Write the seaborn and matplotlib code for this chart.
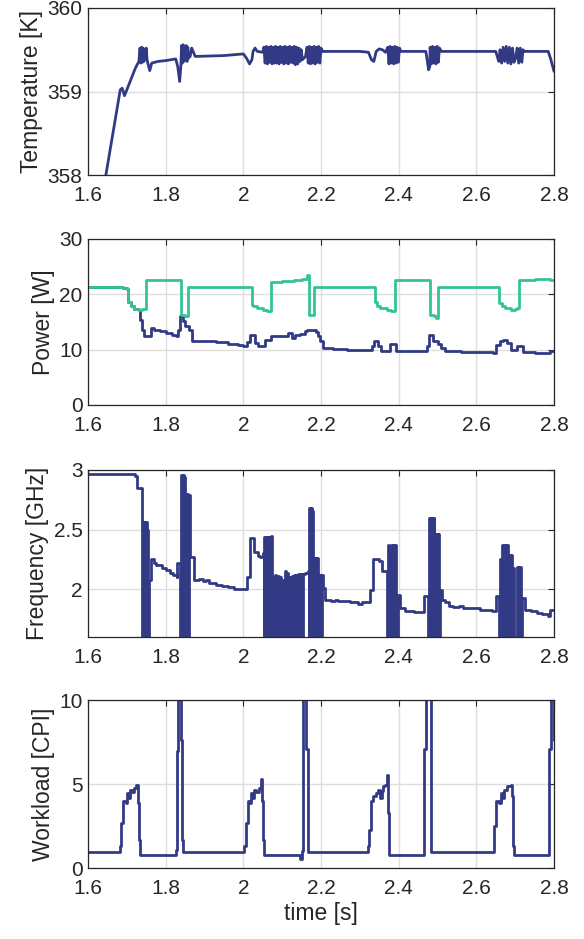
import matplotlib
matplotlib.use("Agg")
import matplotlib.pyplot as plt
import seaborn as sns

# ---- data (time in s) ----
# temperature: drawn as a plain polyline
temp_t = [1.646, 1.683, 1.688, 1.694, 1.710, 1.722, 1.731,
          1.734, 1.736, 1.738, 1.740, 1.742, 1.744, 1.746, 1.748, 1.750, 1.752,
          1.755, 1.759, 1.764, 1.780, 1.800, 1.826, 1.831, 1.836, 1.839,
          1.841, 1.843, 1.845, 1.847, 1.849, 1.851, 1.853, 1.855, 1.857, 1.859,
          1.863, 1.867, 1.876, 1.950, 2.000, 2.008, 2.016, 2.022, 2.025, 2.030, 2.036, 2.050,
          2.053, 2.056, 2.059, 2.062, 2.065, 2.068, 2.071, 2.074, 2.077, 2.080,
          2.083, 2.086, 2.089, 2.092, 2.095, 2.098, 2.101, 2.104, 2.107, 2.110,
          2.113, 2.116, 2.119, 2.122, 2.125, 2.128, 2.131, 2.134, 2.137, 2.140,
          2.143, 2.146, 2.149, 2.152, 2.156, 2.160,
          2.164, 2.167, 2.170, 2.173, 2.176, 2.179, 2.182, 2.185, 2.188, 2.191,
          2.194, 2.197, 2.200, 2.204, 2.300, 2.322, 2.330, 2.336, 2.342, 2.350,
          2.358, 2.366,
          2.372, 2.375, 2.378, 2.381, 2.384, 2.387, 2.390, 2.393, 2.396, 2.399, 2.402,
          2.406, 2.470, 2.474, 2.477, 2.480,
          2.481, 2.484, 2.487, 2.490, 2.493, 2.496, 2.499, 2.502, 2.505,
          2.510, 2.650, 2.655, 2.658,
          2.661, 2.665, 2.669, 2.673, 2.677, 2.681, 2.685, 2.689, 2.693, 2.697,
          2.701, 2.705, 2.709, 2.713, 2.717, 2.720,
          2.724, 2.785, 2.792, 2.800]
temp_v = [358.00, 359.02, 359.04, 358.95, 359.14, 359.28, 359.36,
          359.52, 359.34, 359.53, 359.35, 359.52, 359.36, 359.50, 359.40, 359.52, 359.38,
          359.32, 359.25, 359.34, 359.36, 359.37, 359.39, 359.30, 359.12, 359.30,
          359.55, 359.34, 359.56, 359.36, 359.54, 359.38, 359.55, 359.36, 359.53, 359.40,
          359.42, 359.52, 359.42, 359.43, 359.45, 359.40, 359.33, 359.38, 359.48, 359.52, 359.48, 359.47,
          359.53, 359.34, 359.54, 359.33, 359.53, 359.35, 359.54, 359.33, 359.53, 359.34,
          359.54, 359.34, 359.53, 359.33, 359.54, 359.35, 359.53, 359.33, 359.54, 359.34,
          359.53, 359.33, 359.54, 359.35, 359.53, 359.34, 359.54, 359.32, 359.53, 359.33,
          359.52, 359.36, 359.50, 359.38, 359.40, 359.42,
          359.53, 359.34, 359.54, 359.33, 359.53, 359.34, 359.54, 359.33, 359.53, 359.35,
          359.54, 359.34, 359.52, 359.48, 359.48, 359.47, 359.38, 359.36, 359.48, 359.51,
          359.50, 359.47,
          359.53, 359.33, 359.54, 359.34, 359.53, 359.33, 359.54, 359.34, 359.53, 359.35, 359.52,
          359.48, 359.48, 359.35, 359.26, 359.30,
          359.53, 359.33, 359.54, 359.34, 359.53, 359.33, 359.54, 359.35, 359.52,
          359.48, 359.48, 359.40, 359.36,
          359.50, 359.34, 359.53, 359.36, 359.54, 359.34, 359.53, 359.33, 359.52, 359.35,
          359.40, 359.52, 359.34, 359.52, 359.35, 359.50,
          359.48, 359.48, 359.38, 359.24]

# the rest are sampled signals: each value holds until the next time stamp
power_a_t = [1.600, 1.690, 1.700, 1.704, 1.710, 1.718, 1.731, 1.734, 1.738, 1.745,
             1.762, 1.770, 1.785, 1.800, 1.815, 1.826, 1.831, 1.838, 1.845, 1.850,
             1.860, 1.869, 1.900, 1.930, 1.960, 1.985, 2.000, 2.010, 2.016, 2.030,
             2.038, 2.056, 2.072, 2.110, 2.115, 2.124, 2.132, 2.145, 2.158, 2.164,
             2.188, 2.192, 2.198, 2.205, 2.230, 2.266, 2.300, 2.330, 2.337, 2.347,
             2.355, 2.378, 2.393, 2.472, 2.478, 2.488, 2.500, 2.508, 2.520, 2.560,
             2.600, 2.644, 2.650, 2.662, 2.668, 2.680, 2.688, 2.704, 2.720, 2.750,
             2.785, 2.790, 2.800]
power_a_v = [21.3, 21.2, 21.0, 18.7, 17.8, 17.3, 17.2, 15.4, 13.6, 12.4,
             13.9, 13.6, 13.3, 13.0, 12.7, 12.5, 13.6, 16.1, 15.1, 14.2,
             13.6, 11.6, 11.5, 11.3, 11.1, 10.9, 10.7, 11.4, 12.7, 11.2,
             10.7, 11.8, 12.4, 12.5, 13.0, 12.1, 12.6, 12.9, 13.3, 13.6,
             13.2, 12.4, 11.5, 10.3, 10.1, 10.0, 9.9, 10.6, 11.6, 10.6,
             9.8, 11.0, 9.8, 10.6, 12.7, 11.5, 11.0, 10.3, 9.7, 9.6,
             9.5, 9.35, 10.9, 11.5, 11.8, 11.2, 10.0, 10.6, 9.5, 9.4,
             9.35, 9.8, 9.8]

power_b_t = [1.600, 1.690, 1.700, 1.704, 1.710, 1.718, 1.731, 1.740, 1.750, 1.780,
             1.840, 1.850, 1.858, 1.900, 1.960, 2.021, 2.026, 2.034, 2.050, 2.060,
             2.071, 2.100, 2.130, 2.150, 2.165, 2.170, 2.181, 2.250, 2.300, 2.339,
             2.345, 2.352, 2.370, 2.380, 2.390, 2.481, 2.490, 2.496, 2.501, 2.560,
             2.620, 2.659, 2.665, 2.674, 2.690, 2.700, 2.704, 2.711, 2.750, 2.790,
             2.800]
power_b_v = [21.3, 21.2, 21.0, 18.7, 17.8, 17.3, 17.2, 17.4, 22.5, 22.6,
             16.3, 16.1, 21.3, 21.4, 21.3, 18.1, 17.8, 17.5, 17.2, 16.9,
             22.3, 22.4, 22.6, 22.75, 23.5, 16.3, 21.3, 21.4, 21.3, 18.7,
             17.8, 17.5, 17.2, 16.9, 22.6, 16.3, 16.0, 15.7, 21.3, 21.4,
             21.3, 18.4, 17.8, 17.5, 17.1, 17.3, 17.6, 22.5, 22.7, 22.6,
             22.6]

freq_t = [1.600, 1.722, 1.727, 1.739, 1.741, 1.743, 1.745, 1.747, 1.749, 1.751,
          1.753, 1.755, 1.756, 1.761, 1.770, 1.775, 1.790, 1.800, 1.810, 1.820,
          1.828, 1.830, 1.838, 1.840, 1.842, 1.844, 1.846, 1.848, 1.850, 1.852,
          1.854, 1.856, 1.858, 1.860, 1.862, 1.872, 1.885, 1.895, 1.905, 1.912,
          1.930, 1.945, 1.960, 1.975, 2.010, 2.018, 2.028, 2.038, 2.043, 2.050,
          2.052, 2.054, 2.056, 2.058, 2.060, 2.062, 2.064, 2.066, 2.068, 2.070,
          2.073, 2.076, 2.079, 2.082, 2.085, 2.088, 2.091, 2.094, 2.097, 2.100,
          2.103, 2.106, 2.109, 2.112, 2.115, 2.118, 2.121, 2.124, 2.127, 2.130,
          2.133, 2.136, 2.139, 2.142, 2.145, 2.148, 2.151, 2.154, 2.156, 2.160,
          2.166, 2.168, 2.170, 2.172, 2.174, 2.176, 2.178, 2.180, 2.182, 2.184,
          2.186, 2.188, 2.190, 2.192, 2.194, 2.196, 2.198, 2.200, 2.202, 2.204,
          2.209, 2.225, 2.237, 2.243, 2.275, 2.295, 2.306, 2.326, 2.333, 2.350,
          2.356, 2.370, 2.373, 2.376, 2.379, 2.382, 2.385, 2.388, 2.391, 2.394,
          2.397, 2.404, 2.415, 2.440, 2.466, 2.476, 2.478, 2.480, 2.482, 2.484,
          2.486, 2.488, 2.490, 2.492, 2.494, 2.496, 2.498, 2.500, 2.502, 2.504,
          2.506, 2.512, 2.520, 2.530, 2.540, 2.555, 2.565, 2.590, 2.610, 2.640,
          2.650, 2.659, 2.661, 2.663, 2.665, 2.667, 2.669, 2.671, 2.673, 2.675,
          2.677, 2.679, 2.681, 2.684, 2.687, 2.690, 2.692, 2.695, 2.698, 2.704,
          2.707, 2.711, 2.714, 2.717, 2.719, 2.726, 2.740, 2.755, 2.770, 2.785,
          2.790, 2.800]
freq_v = [2.97, 2.95, 2.85, 1.60, 2.56, 1.60, 2.56, 1.60, 2.56, 1.60,
          2.50, 1.60, 2.08, 2.25, 2.22, 2.20, 2.18, 2.16, 2.14, 2.12,
          2.10, 2.22, 1.60, 2.96, 1.60, 2.96, 1.60, 2.94, 1.60, 2.80,
          1.60, 2.80, 1.60, 2.79, 2.27, 2.08, 2.09, 2.07, 2.08, 2.05,
          2.04, 2.03, 2.02, 2.00, 2.10, 2.43, 2.31, 2.28, 2.27, 2.30,
          1.60, 2.44, 1.60, 2.44, 1.60, 2.44, 1.60, 2.44, 1.60, 2.45,
          1.60, 2.10, 1.60, 2.12, 1.60, 2.11, 1.60, 2.10, 1.60, 2.08,
          1.60, 2.15, 1.60, 2.14, 1.60, 2.10, 1.60, 2.11, 1.60, 2.12,
          1.60, 2.12, 1.60, 2.13, 1.60, 2.13, 1.60, 2.13, 2.13, 2.14,
          2.15, 1.60, 2.68, 1.60, 2.68, 1.60, 2.66, 1.60, 2.26, 1.60,
          2.26, 1.60, 2.26, 1.60, 2.12, 1.60, 2.12, 1.60, 2.12, 2.01,
          1.91, 1.90, 1.91, 1.90, 1.89, 1.88, 1.89, 1.99, 2.25, 2.24,
          2.15, 1.60, 2.37, 1.60, 2.37, 1.60, 2.37, 1.60, 2.37, 1.60,
          1.95, 1.84, 1.82, 1.81, 1.94, 1.60, 2.60, 1.60, 2.60, 1.60,
          2.60, 1.60, 2.60, 1.60, 2.46, 1.60, 2.46, 1.60, 2.46, 1.60,
          1.99, 1.91, 1.89, 1.86, 1.85, 1.86, 1.84, 1.84, 1.83, 1.82,
          1.94, 1.60, 2.25, 1.60, 2.25, 2.37, 1.60, 2.37, 1.60, 2.37,
          1.60, 2.37, 1.60, 2.29, 1.60, 2.29, 1.60, 2.18, 1.60, 2.19,
          1.60, 2.19, 1.60, 1.93, 1.93, 1.83, 1.82, 1.80, 1.79, 1.78,
          1.83, 1.83]

load_t = [1.600, 1.682, 1.685, 1.690, 1.697, 1.701, 1.705, 1.709, 1.714, 1.718,
          1.723, 1.730, 1.732, 1.734, 1.826, 1.830, 1.833, 1.840, 1.842, 1.845,
          2.002, 2.006, 2.011, 2.016, 2.020, 2.024, 2.028, 2.033, 2.040, 2.046,
          2.049, 2.051, 2.053, 2.146, 2.151, 2.153, 2.162, 2.166, 2.320, 2.324,
          2.328, 2.335, 2.342, 2.346, 2.351, 2.356, 2.360, 2.366, 2.370, 2.373,
          2.376, 2.466, 2.470, 2.482, 2.646, 2.650, 2.657, 2.663, 2.668, 2.672,
          2.680, 2.688, 2.693, 2.695, 2.698, 2.788, 2.792, 2.800]
load_v = [0.95, 1.29, 2.68, 3.98, 3.88, 4.47, 4.17, 4.67, 4.50, 4.77,
          4.97, 3.88, 1.69, 0.76, 1.09, 6.96, 10.8, 7.65, 1.69, 0.95,
          1.29, 2.68, 3.98, 3.88, 4.47, 4.17, 4.67, 4.50, 4.77, 5.27,
          4.00, 1.69, 0.76, 0.54, 1.00, 10.8, 7.06, 0.95, 1.29, 2.29,
          3.98, 4.27, 4.47, 4.67, 4.17, 4.60, 4.90, 4.97, 5.51, 3.28,
          0.76, 7.06, 10.8, 0.95, 2.49, 3.98, 3.88, 4.47, 4.17, 4.67,
          4.87, 4.97, 4.30, 1.29, 0.76, 7.06, 10.8, 7.60]

x_ticks = [1.6, 1.8, 2.0, 2.2, 2.4, 2.6, 2.8]
x_tick_labels = ["1.6", "1.8", "2", "2.2", "2.4", "2.6", "2.8"]

BLUE = "#323a85"
GREEN = "#33c491"

sns.set_theme(style="whitegrid")
plt.rcParams["font.family"] = ["Liberation Sans", "DejaVu Sans"]

fig = plt.figure(figsize=(5.84, 9.39), dpi=100)
boxes = [
    [0.1507, 0.8136, 0.798, 0.1779],
    [0.1507, 0.5687, 0.798, 0.1768],
    [0.1507, 0.3216, 0.798, 0.1779],
    [0.1507, 0.0756, 0.798, 0.1789],
]
axes = [fig.add_axes(b) for b in boxes]

series = [
    [(temp_t, temp_v, BLUE, "default")],
    [(power_a_t, power_a_v, BLUE, "steps-post"), (power_b_t, power_b_v, GREEN, "steps-post")],
    [(freq_t, freq_v, BLUE, "steps-post")],
    [(load_t, load_v, BLUE, "steps-post")],
]
ylims = [(358, 360), (0, 30), (1.6, 3.0), (0, 10)]
yticks = [[358, 359, 360], [0, 10, 20, 30], [2, 2.5, 3], [0, 5, 10]]
ytick_labels = [["358", "359", "360"], ["0", "10", "20", "30"],
                ["2", "2.5", "3"], ["0", "5", "10"]]
ylabels = ["Temperature [K]", "Power [W]", "Frequency [GHz]", "Workload [CPI]"]

for ax, lines, yl, yt, ytl, lab in zip(axes, series, ylims, yticks, ytick_labels, ylabels):
    for xs, ys, col, ds in lines:
        sns.lineplot(x=xs, y=ys, ax=ax, color=col, linewidth=2.0,
                     estimator=None, sort=False, drawstyle=ds)
    ax.set_xlim(1.6, 2.8)
    ax.set_ylim(*yl)
    ax.set_xticks(x_ticks)
    ax.set_xticklabels(x_tick_labels)
    ax.set_yticks(yt)
    ax.set_yticklabels(ytl)
    ax.set_ylabel(lab, fontsize=16.5, color="#262626", labelpad=3)
    ax.grid(True, color="#dedede", linewidth=1.0)
    ax.set_facecolor("white")
    for sp in ax.spines.values():
        sp.set_color("#262626")
        sp.set_linewidth(0.9)
    ax.tick_params(direction="in", top=True, right=True, length=4, width=0.8,
                   colors="#262626", labelsize=15)
    ax.tick_params(axis="x", pad=8)
    ax.tick_params(axis="y", pad=4)

axes[-1].set_xlabel("time [s]", fontsize=16.5, color="#262626", labelpad=3)

fig.savefig("out.png", dpi=100)
